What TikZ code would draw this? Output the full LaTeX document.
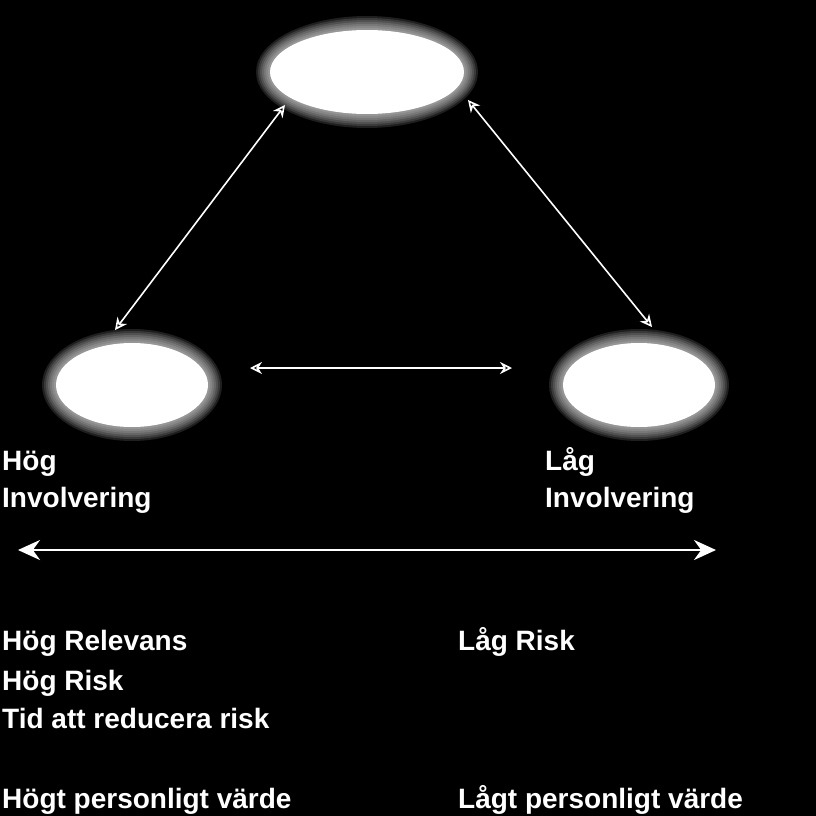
\documentclass[tikz,border=0pt]{standalone}
\usepackage{fontspec}
\setmainfont{Liberation Sans}
\begin{document}
\begin{tikzpicture}[x=1pt,y=-1pt,
  lbl/.style={anchor=base west,inner sep=0pt,text=white,font=\bfseries\fontsize{28}{32}\selectfont,align=left},
  conn/.style={draw=white,line width=1.6pt,<->,>={Stealth[open,length=12pt,width=12pt]}},
  bigconn/.style={draw=white,line width=2.4pt,<->,>={Stealth[length=22pt,width=20pt]}}]
\fill[black] (0,0) rectangle (816,816);
\useasboundingbox (0,0) rectangle (816,816);
\newcommand{\glowell}[4]{%
  \foreach \k in {14,12,...,2}{\fill[white,opacity=0.12] (#1,#2) ellipse ({#3+\k} and {#4+\k});}
  \node[ellipse,fill=white,minimum width=2*#3 pt,minimum height=2*#4 pt,inner sep=0pt] at (#1,#2) {};}
\usetikzlibrary{shapes.geometric,arrows.meta}
\glowell{367}{72}{97}{42}
\glowell{132}{385}{76}{42}
\glowell{639}{385}{76}{42}
\coordinate (t1) at (285,105); \coordinate (l1) at (115,330);
\coordinate (t2) at (468,100); \coordinate (r1) at (652,327);
\coordinate (m1) at (250,368); \coordinate (m2) at (512,368);
\coordinate (b1) at (18,550); \coordinate (b2) at (716,550);
\draw[conn] (t1) -- (l1);
\draw[conn] (t2) -- (r1);
\draw[conn] (m1) -- (m2);
\draw[bigconn] (b1) -- (b2);
\node[lbl] (a) at (2,470) {Hög};
\node[lbl] (b) at (2,507) {Involvering};
\node[lbl] (c) at (545,470) {Låg};
\node[lbl] (d) at (545,507) {Involvering};
\node[lbl] (e) at (2,650) {Hög Relevans};
\node[lbl] (f) at (2,690) {Hög Risk};
\node[lbl] (g) at (2,728) {Tid att reducera risk};
\node[lbl] (h) at (2,808) {Högt personligt värde};
\node[lbl] (i) at (458,650) {Låg Risk};
\node[lbl] (j) at (458,808) {Lågt personligt värde};
\end{tikzpicture}
\end{document}
